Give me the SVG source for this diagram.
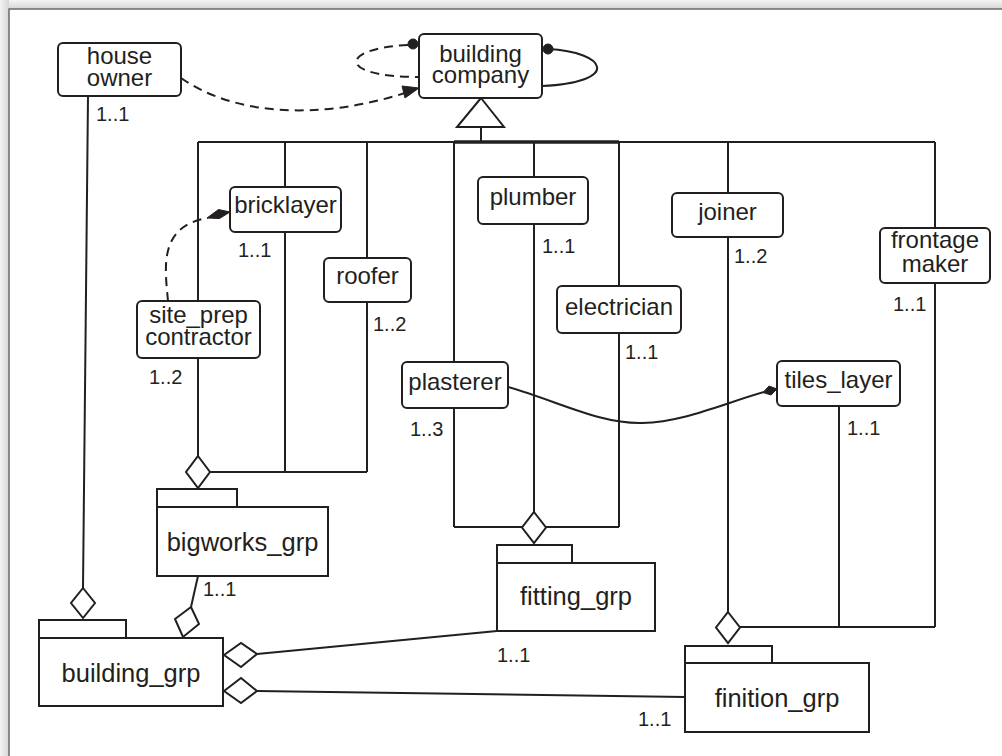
<svg xmlns="http://www.w3.org/2000/svg" width="1002" height="756" viewBox="0 0 1002 756">
<defs>
<style>
.n rect{fill:#fff;stroke:#231f20;stroke-width:2}
.n text{font-family:"Liberation Sans",Arial,sans-serif;font-size:24px;fill:#231f20;text-anchor:middle}
.g rect{fill:#fff;stroke:#231f20;stroke-width:2}
.g text{font-family:"Liberation Sans",Arial,sans-serif;font-size:25.5px;fill:#231f20;text-anchor:middle}
.c line,.c path{fill:none;stroke:#231f20;stroke-width:2}
.c .d{stroke-dasharray:9,6}
.c polygon.h{fill:#fff;stroke:#231f20;stroke-width:2}
.c polygon.f,.c circle{fill:#231f20;stroke:#231f20;stroke-width:1}
.m{font-family:"Liberation Sans",Arial,sans-serif;font-size:20px;fill:#231f20}
</style>
<linearGradient id="gt" x1="0" y1="0" x2="0" y2="1"><stop offset="0" stop-color="#f4f4f4"/><stop offset="1" stop-color="#d6d6d6"/></linearGradient>
<linearGradient id="gl" x1="0" y1="0" x2="1" y2="0"><stop offset="0" stop-color="#f4f4f4"/><stop offset="1" stop-color="#d6d6d6"/></linearGradient>
</defs>
<rect x="0" y="0" width="1002" height="9" fill="url(#gt)"/>
<rect x="0" y="0" width="9" height="756" fill="url(#gl)"/>
<rect x="9" y="9" width="1000" height="760" fill="#fff" stroke="#6b6b6b" stroke-width="1.5"/>

<g id="connectors" class="c">
<polygon class="h" points="481,98 457,127 504,127"/>
<line x1="481" y1="127" x2="481" y2="142"/>
<line x1="198" y1="142" x2="935" y2="142"/>
<line x1="454" y1="142" x2="619" y2="142" style="stroke-width:3.5"/>
<line x1="198" y1="142" x2="198" y2="301"/>
<line x1="198" y1="358" x2="198" y2="456"/>
<line x1="285" y1="142" x2="285" y2="187"/>
<line x1="285" y1="232" x2="285" y2="472"/>
<line x1="367" y1="142" x2="367" y2="258"/>
<line x1="367" y1="302" x2="367" y2="472"/>
<line x1="210" y1="472" x2="367" y2="472"/>
<polygon class="h" points="198,456 210,472 198,488 186,472"/>
<line x1="454" y1="142" x2="454" y2="362"/>
<line x1="454" y1="408" x2="454" y2="527"/>
<line x1="534" y1="142" x2="534" y2="177"/>
<line x1="534" y1="224" x2="534" y2="512"/>
<line x1="619" y1="142" x2="619" y2="286"/>
<line x1="619" y1="333" x2="619" y2="527"/>
<line x1="454" y1="527" x2="522" y2="527"/>
<line x1="546" y1="527" x2="619" y2="527"/>
<polygon class="h" points="534,512 546,527.5 534,543 522,527.5"/>
<line x1="728" y1="142" x2="728" y2="193"/>
<line x1="728" y1="237" x2="728" y2="612"/>
<line x1="935" y1="142" x2="935" y2="228"/>
<line x1="935" y1="283" x2="935" y2="627"/>
<line x1="839" y1="406" x2="839" y2="627"/>
<line x1="740" y1="627" x2="935" y2="627"/>
<polygon class="h" points="728,612 740,627.5 728,643 716,627.5"/>
<line x1="88" y1="96" x2="83" y2="588"/>
<polygon class="h" points="83,588 95,603 83,618 71,603"/>
<line x1="198" y1="576" x2="191" y2="607"/>
<polygon class="h" points="191,607 199,624 183,637 175,619"/>
<line x1="257" y1="654" x2="497" y2="631"/>
<polygon class="h" points="224,655 241,643 257,654 241,667"/>
<line x1="257" y1="691" x2="685" y2="697"/>
<polygon class="h" points="224,691 241,678 257,691 241,703"/>
<path class="d" d="M168,301 C 165,268 158,226 208,218"/>
<polygon class="f" points="230,212 219.5,218.5 207,218 218.5,209.5"/>
<path d="M508,387 C 560,402 600,424 642,423 C 684,422 722,404 764,392"/>
<polygon class="f" points="777,389 771,395 763,392.5 769,386"/>
<path class="d" d="M181,78 C 235,116 320,120 405,93"/>
<polygon class="f" points="419,88 405,98 402,86"/>
<path class="d" d="M408,45 C 340,48 335,77 419,77"/>
<circle cx="413" cy="44" r="5"/>
<path d="M548,49 C 607,52 622,82 542,86"/>
<circle cx="548" cy="49" r="5"/>
</g>

<g id="house_owner" class="n"><rect x="58" y="43" width="123" height="53" rx="5"/><text x="119.5" y="64">house<tspan x="119.5" dy="22">owner</tspan></text></g>
<g id="building_company" class="n"><rect x="419" y="34" width="123" height="64" rx="5"/><text x="480.5" y="62">building<tspan x="480.5" dy="21">company</tspan></text></g>
<g id="bricklayer" class="n"><rect x="230" y="187" width="111" height="45" rx="5"/><text x="285.5" y="213">bricklayer</text></g>
<g id="roofer" class="n"><rect x="324" y="258" width="87" height="44" rx="5"/><text x="367.5" y="284">roofer</text></g>
<g id="site_prep_contractor" class="n"><rect x="137" y="301" width="123" height="57" rx="5"/><text x="198.5" y="323">site_prep<tspan x="198.5" dy="22">contractor</tspan></text></g>
<g id="plumber" class="n"><rect x="478" y="177" width="110" height="47" rx="5"/><text x="533" y="205">plumber</text></g>
<g id="electrician" class="n"><rect x="557" y="286" width="124" height="47" rx="5"/><text x="619" y="315">electrician</text></g>
<g id="plasterer" class="n"><rect x="402" y="362" width="106" height="46" rx="5"/><text x="455" y="390">plasterer</text></g>
<g id="joiner" class="n"><rect x="672" y="193" width="111" height="44" rx="5"/><text x="727.5" y="220">joiner</text></g>
<g id="frontage_maker" class="n"><rect x="880" y="228" width="110" height="55" rx="5"/><text x="935" y="248">frontage<tspan x="935" dy="24">maker</tspan></text></g>
<g id="tiles_layer" class="n"><rect x="777" y="361" width="123" height="45" rx="5"/><text x="838.5" y="388">tiles_layer</text></g>

<g id="bigworks_grp" class="g"><rect x="157" y="489" width="80" height="18"/><rect x="157" y="507" width="171" height="69"/><text x="242.5" y="551">bigworks_grp</text></g>
<g id="building_grp" class="g"><rect x="39" y="620" width="87" height="18"/><rect x="39" y="638" width="184" height="68"/><text x="131" y="682">building_grp</text></g>
<g id="fitting_grp" class="g"><rect x="497" y="545" width="75" height="18"/><rect x="497" y="563" width="158" height="68"/><text x="576" y="605">fitting_grp</text></g>
<g id="finition_grp" class="g"><rect x="685" y="646" width="87" height="17"/><rect x="685" y="663" width="184" height="69"/><text x="777" y="707">finition_grp</text></g>

<g id="multiplicities" class="m">
<text x="96" y="121">1..1</text>
<text x="238" y="257">1..1</text>
<text x="373" y="331">1..2</text>
<text x="149" y="384">1..2</text>
<text x="542" y="253">1..1</text>
<text x="625" y="359">1..1</text>
<text x="410" y="436">1..3</text>
<text x="734" y="263">1..2</text>
<text x="893" y="311">1..1</text>
<text x="847" y="435">1..1</text>
<text x="203" y="596">1..1</text>
<text x="497" y="662">1..1</text>
<text x="638" y="726">1..1</text>
</g>
</svg>
